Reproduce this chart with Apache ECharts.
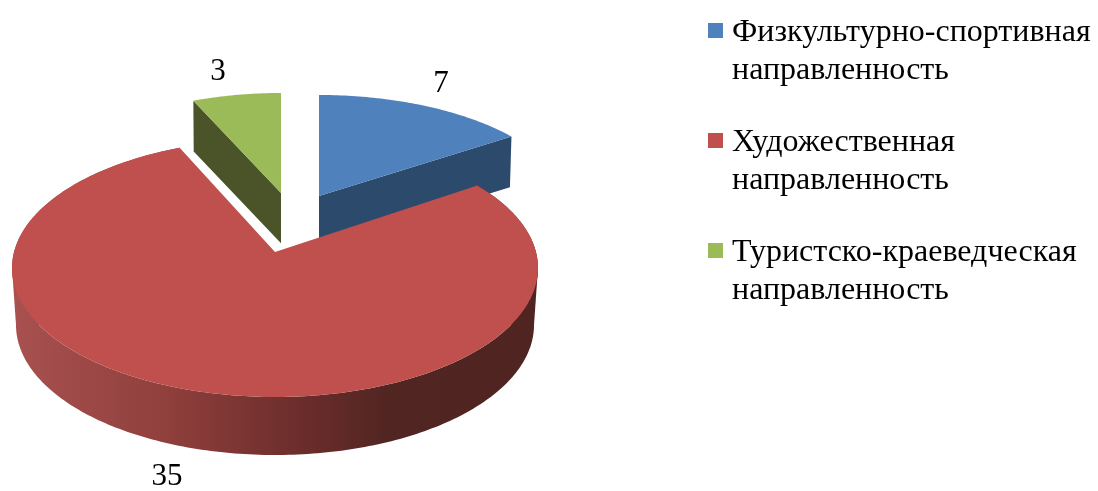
<!DOCTYPE html>
<html><head><meta charset="utf-8">
<style>html,body{margin:0;padding:0;background:#fff}#c{width:1098px;height:491px}</style>
<script src="https://cdn.jsdelivr.net/npm/echarts@6/dist/echarts.min.js"></script>
</head><body><div id="c"></div>
<script>
const categories = ['Физкультурно-спортивная\nнаправленность', 'Художественная\nнаправленность', 'Туристско-краеведческая\nнаправленность'];
const values = [7, 35, 3];
const topColors = ['#4f81bd', '#c0504d', '#9bbb59'];

// Perspective geometry of each exploded slice (layout, not data)
const geometry = [
  {cx: 319, cy: 211, rx: 251, ry: 116, bx: 249, by: 115, dy: 50, a: -0.129, wall: '#2c4a6c', label: [441, 84]},
  {cx: 275, cy: 268, rx: 263, ry: 129, bx: 259, by: 130, dy: 57, a: -0.124, label: [167, 477]},
  {cx: 281, cy: 209, rx: 245, ry: 116, bx: 244, by: 115, dy: 50, a: -0.138, wall: '#4a5428', label: [218, 72]}
];
const total = values.reduce((s, v) => s + v, 0);
const cumulative = values.map((_, i) => values.slice(0, i).reduce((s, v) => s + v, 0));

// Point on the slice's disc, data angle th measured clockwise from 12 o'clock, radius r (0..1)
function project(g, th, r, lower) {
  const u = r * Math.sin(th), v = -r * Math.cos(th);
  const d = 1 + g.a * v;
  const up = u * Math.sqrt(1 - g.a * g.a) / d, vp = (v + g.a) / d;
  if (lower) return [g.cx + g.bx * up, g.cy + g.dy + g.by * vp];
  return [g.cx + g.rx * up, g.cy + g.ry * vp];
}
function arc(g, a0, a1, lower) {
  const n = Math.max(8, Math.round((a1 - a0) * 60)), pts = [];
  for (let i = 0; i <= n; i++) pts.push(project(g, a0 + (a1 - a0) * i / n, 1, lower));
  return pts;
}
const redWall = new echarts.graphic.LinearGradient(12, 0, 538, 0, [
  {offset: 0, color: '#a85150'},
  {offset: 0.3, color: '#8f3f3c'},
  {offset: 0.55, color: '#6b2d2b'},
  {offset: 0.72, color: '#512522'},
  {offset: 1, color: '#4f2421'}
], true);

function sliceRenderer(i) {
  return function () {
    const g = geometry[i];
    const a0 = cumulative[i] / total * 2 * Math.PI;
    const a1 = (cumulative[i] + values[i]) / total * 2 * Math.PI;
    const apexT = project(g, 0, 0, false), apexB = project(g, 0, 0, true);
    const children = [];
    if (i === 1) {
      const t = arc(g, a0, a1, false), b = arc(g, a0, a1, true).reverse();
      children.push({type: 'polygon', shape: {points: t.concat(b)}, style: {fill: redWall}});
      // silhouette between the top and bottom rims at their widest points
      children.push({type: 'polygon', shape: {points: [
        [g.cx - g.rx, g.cy], [g.cx - g.bx, g.cy + g.dy], [g.cx + g.bx, g.cy + g.dy], [g.cx + g.rx, g.cy]
      ]}, style: {fill: redWall}});
    } else if (i === 0) {
      children.push({type: 'polygon', shape: {points: [apexT, project(g, a1, 1, false), project(g, a1, 1, true), apexB]}, style: {fill: g.wall}});
    } else {
      children.push({type: 'polygon', shape: {points: [apexT, project(g, a0, 1, false), project(g, a0, 1, true), apexB]}, style: {fill: g.wall}});
    }
    children.push({type: 'polygon', shape: {points: [apexT].concat(arc(g, a0, a1, false))}, style: {fill: topColors[i]}});
    children.push({type: 'text', style: {x: g.label[0], y: g.label[1], text: String(values[i]), fill: '#000',
      font: '31px "Liberation Serif"', align: 'center', verticalAlign: 'middle'}});
    return {type: 'group', children};
  };
}

const chart = echarts.init(document.getElementById('c'), null, {renderer: 'canvas'});
chart.setOption({
  animation: false,
  backgroundColor: '#fff',
  legend: {
    left: 708, top: 14, orient: 'vertical', padding: 0,
    data: categories,
    itemWidth: 15, itemHeight: 76, itemGap: 34,
    icon: 'path://M0 9H15V24H0Z M0 0H0.1V0.1H0Z M0 75.9H0.1V76H0Z',
    selectedMode: false,
    textStyle: {fontFamily: 'Liberation Serif', fontSize: 32, lineHeight: 38, color: '#000', padding: [0, 0, 0, 4]}
  },
  series: [0, 2, 1].map(i => ({
    type: 'custom', coordinateSystem: 'none', name: categories[i],
    data: [values[i]], renderItem: sliceRenderer(i),
    itemStyle: {color: topColors[i]}, silent: true
  }))
});
</script></body></html>
